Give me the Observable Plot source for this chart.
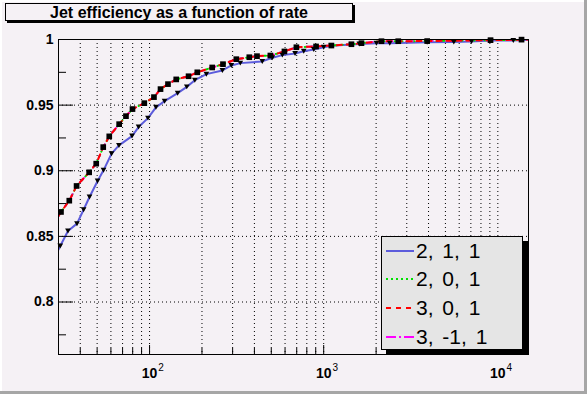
<!DOCTYPE html>
<html><head><meta charset="utf-8">
<script src="https://cdn.jsdelivr.net/npm/d3@7"></script>
<script src="https://cdn.jsdelivr.net/npm/@observablehq/plot@0.6"></script>
<style>
html,body{margin:0;padding:0;background:#f5f1f5;}
#c{position:relative;width:587px;height:394px;background:#f5f1f5;overflow:hidden;font-family:"Liberation Sans",Arial,sans-serif;}
#c svg.plotsvg{position:absolute;left:0;top:0;}
.edge{position:absolute;}
#title{position:absolute;left:5px;top:3px;width:346px;height:16px;border:1px solid #000;box-shadow:2px 2px 0 #000;background:#f5f1f5;
  font-weight:bold;font-size:16px;line-height:14px;text-align:center;color:#000;white-space:nowrap;}
#legend{position:absolute;left:381px;top:236px;width:140px;height:112px;border:1px solid #000;box-shadow:5px 5px 0 #000;background:#e5e5e5;}
.row{position:absolute;left:0;height:28px;width:140px;}
.row svg{position:absolute;left:3px;top:0;}
.row span{position:absolute;left:34px;top:0;font-size:21px;line-height:28px;word-spacing:3px;color:#000;white-space:pre;}
</style></head><body><div id="c"></div>
<script>
// ---- data ----
const xDomain = [30, 15000];
const yDomain = [0.76, 1];
const yMajor = [0.8, 0.85, 0.9, 0.95, 1];
const yLabels = ["0.8", "0.85", "0.9", "0.95", "1"];
const yMinor = [0.775, 0.825, 0.875, 0.925, 0.975];
const xMajor = [100, 1000, 10000];
const xMajorExp = ["2", "3", "4"];
const xMinor = [40, 50, 60, 70, 80, 90, 200, 300, 400, 500, 600, 700, 800, 900, 2000, 3000, 4000, 5000, 6000, 7000, 8000, 9000];

const seriesNames = ["2, 1, 1", "2, 0, 1", "3, 0, 1", "3, -1, 1"];
const seriesColors = ["#5c5cdc", "#00e000", "#ff0000", "#ff00ff"];
const seriesDash = [null, "2,4", "5,5", "6,6,2,6"];
const legendDash = [null, "2,3", "5,5", "10,3,2,3"];

// series "2, 1, 1"
const rates211 = [30, 30.7, 34.0, 38.3, 41.8, 45.2, 50.3, 54.4, 60.5, 66.7, 79.3, 86.5, 97.9, 108.8, 122, 145, 163.6, 182, 212, 262, 295, 332, 444, 507, 579, 685, 768, 877, 1000, 1107, 1443, 1603, 2008, 2395, 3925, 5586, 7063, 9080, 12270, 15000];
const eff211 = [0.840, 0.8427, 0.8541, 0.8597, 0.8703, 0.8800, 0.8922, 0.9003, 0.9130, 0.9193, 0.9264, 0.9333, 0.9401, 0.9483, 0.9530, 0.9591, 0.9639, 0.9690, 0.9736, 0.9764, 0.9802, 0.9820, 0.9833, 0.9861, 0.9881, 0.9893, 0.9911, 0.9924, 0.9941, 0.9952, 0.9962, 0.9966, 0.9972, 0.9972, 0.9979, 0.9980, 0.9985, 0.9992, 0.9993, 0.9998];

// series "2, 0, 1", "3, 0, 1", "3, -1, 1" (overlapping)
const ratesUp = [30, 31.0, 34.6, 38.1, 45.0, 49.4, 54.2, 58.7, 66.9, 73.2, 79.8, 93.3, 106, 115.6, 127.6, 142.3, 167.5, 188, 229, 264, 315, 374, 414, 494, 595, 697, 904, 1107, 1443, 1648, 2147, 2680, 3929, 9080, 13680, 15000];
const effUp = [0.8655, 0.8686, 0.8772, 0.8884, 0.8988, 0.9054, 0.9180, 0.9262, 0.9355, 0.9416, 0.9470, 0.9515, 0.9561, 0.9622, 0.9660, 0.9696, 0.9720, 0.9750, 0.9787, 0.9812, 0.9850, 0.9865, 0.9873, 0.9878, 0.9909, 0.9941, 0.9947, 0.9954, 0.9964, 0.9972, 0.9987, 0.9987, 0.9988, 0.9995, 0.9999, 1.0];

const rows211 = rates211.map((r, i) => ({rate: r, eff: eff211[i]}));
const rowsUp = ratesUp.map((r, i) => ({rate: r, eff: effUp[i]}));

const triDown = {draw(ctx, size) {
  const s = Math.sqrt(size); const w = s * 0.62, h = s * 0.54;
  ctx.moveTo(-w, -h); ctx.lineTo(w, -h); ctx.lineTo(0, h); ctx.closePath();
}};

const chart = Plot.plot({
  width: 587, height: 394,
  marginLeft: 58, marginRight: 59, marginTop: 39, marginBottom: 40,
  style: {background: "transparent", fontFamily: "'Liberation Sans', Arial, sans-serif", color: "#000", overflow: "visible"},
  x: {type: "log", domain: xDomain},
  y: {domain: yDomain},
  marks: [
    Plot.gridX({ticks: xMinor.concat(xMajor), stroke: "#000", strokeOpacity: 1, strokeDasharray: "1,3"}),
    Plot.gridY({ticks: yMajor, stroke: "#000", strokeOpacity: 1, strokeDasharray: "1,3"}),
    Plot.line(rows211, {x: "rate", y: "eff", stroke: seriesColors[0], strokeWidth: 2, clip: true}),
    Plot.line(rowsUp, {x: "rate", y: "eff", stroke: seriesColors[1], strokeWidth: 2, strokeDasharray: seriesDash[1], clip: true}),
    Plot.line(rowsUp, {x: "rate", y: "eff", stroke: seriesColors[3], strokeWidth: 2, strokeDasharray: seriesDash[3], clip: true}),
    Plot.line(rowsUp, {x: "rate", y: "eff", stroke: seriesColors[2], strokeWidth: 2, strokeDasharray: seriesDash[2], clip: true}),
    Plot.dot(rows211.slice(1, -1), {x: "rate", y: "eff", symbol: triDown, r: 2.6, fill: "#000", stroke: "none"}),
    Plot.dot(rowsUp.slice(1, -1), {x: "rate", y: "eff", symbol: "square", r: 3.2, fill: "#000", stroke: "none"}),
    Plot.axisY({ticks: yMajor, anchor: "right", frameAnchor: "left", tickSize: 14, fill: "none", label: null}),
    Plot.axisY({ticks: yMinor, anchor: "right", frameAnchor: "left", tickSize: 7, fill: "none", label: null}),
    Plot.axisY({ticks: yMajor, anchor: "left", tickSize: 0, tickPadding: 5, tickFormat: d => yLabels[yMajor.indexOf(d)], fontSize: 14, fontWeight: "bold", label: null}),
    Plot.axisX({ticks: xMajor, anchor: "top", frameAnchor: "bottom", tickSize: 10, fill: "none", label: null}),
    Plot.axisX({ticks: xMinor, anchor: "top", frameAnchor: "bottom", tickSize: 7, fill: "none", label: null}),
    Plot.text(xMajor, {x: d => d, frameAnchor: "bottom", dy: 23, text: () => "10", fontSize: 14, fontWeight: "bold"}),
    Plot.text(xMajor, {x: d => d, frameAnchor: "bottom", dy: 16, dx: 11.5, text: (d, i) => xMajorExp[i], fontSize: 10}),
    Plot.frame({stroke: "#000"})
  ]
});
chart.classList.add("plotsvg");
const c = document.getElementById("c");
c.appendChild(chart);

// edges
function edge(l, t, w, h, col) { const e = document.createElement("div"); e.className = "edge"; Object.assign(e.style, {left: l + "px", top: t + "px", width: w + "px", height: h + "px", background: col}); c.appendChild(e); }
edge(0, 0, 587, 2, "#ffffff");
edge(0, 0, 2, 394, "#ffffff");
edge(584, 0, 3, 394, "#a6a6a6");
edge(0, 391, 587, 3, "#a6a6a6");

// title
const title = document.createElement("div");
title.id = "title";
title.innerHTML = '<div style="margin-top:2px">Jet efficiency as a function of rate</div>';
c.appendChild(title);

// legend
const legend = document.createElement("div");
legend.id = "legend";
const rowTops = [0, 28, 57, 86];
seriesNames.forEach((name, i) => {
  const row = document.createElement("div");
  row.className = "row";
  row.style.top = rowTops[i] + "px";
  const dash = legendDash[i] ? `stroke-dasharray="${legendDash[i]}"` : "";
  row.innerHTML = `<svg width="30" height="28"><line x1="1" x2="29" y1="14" y2="14" stroke="${seriesColors[i]}" stroke-width="2" ${dash}/></svg><span>${name}</span>`;
  legend.appendChild(row);
});
c.appendChild(legend);
</script></body></html>
